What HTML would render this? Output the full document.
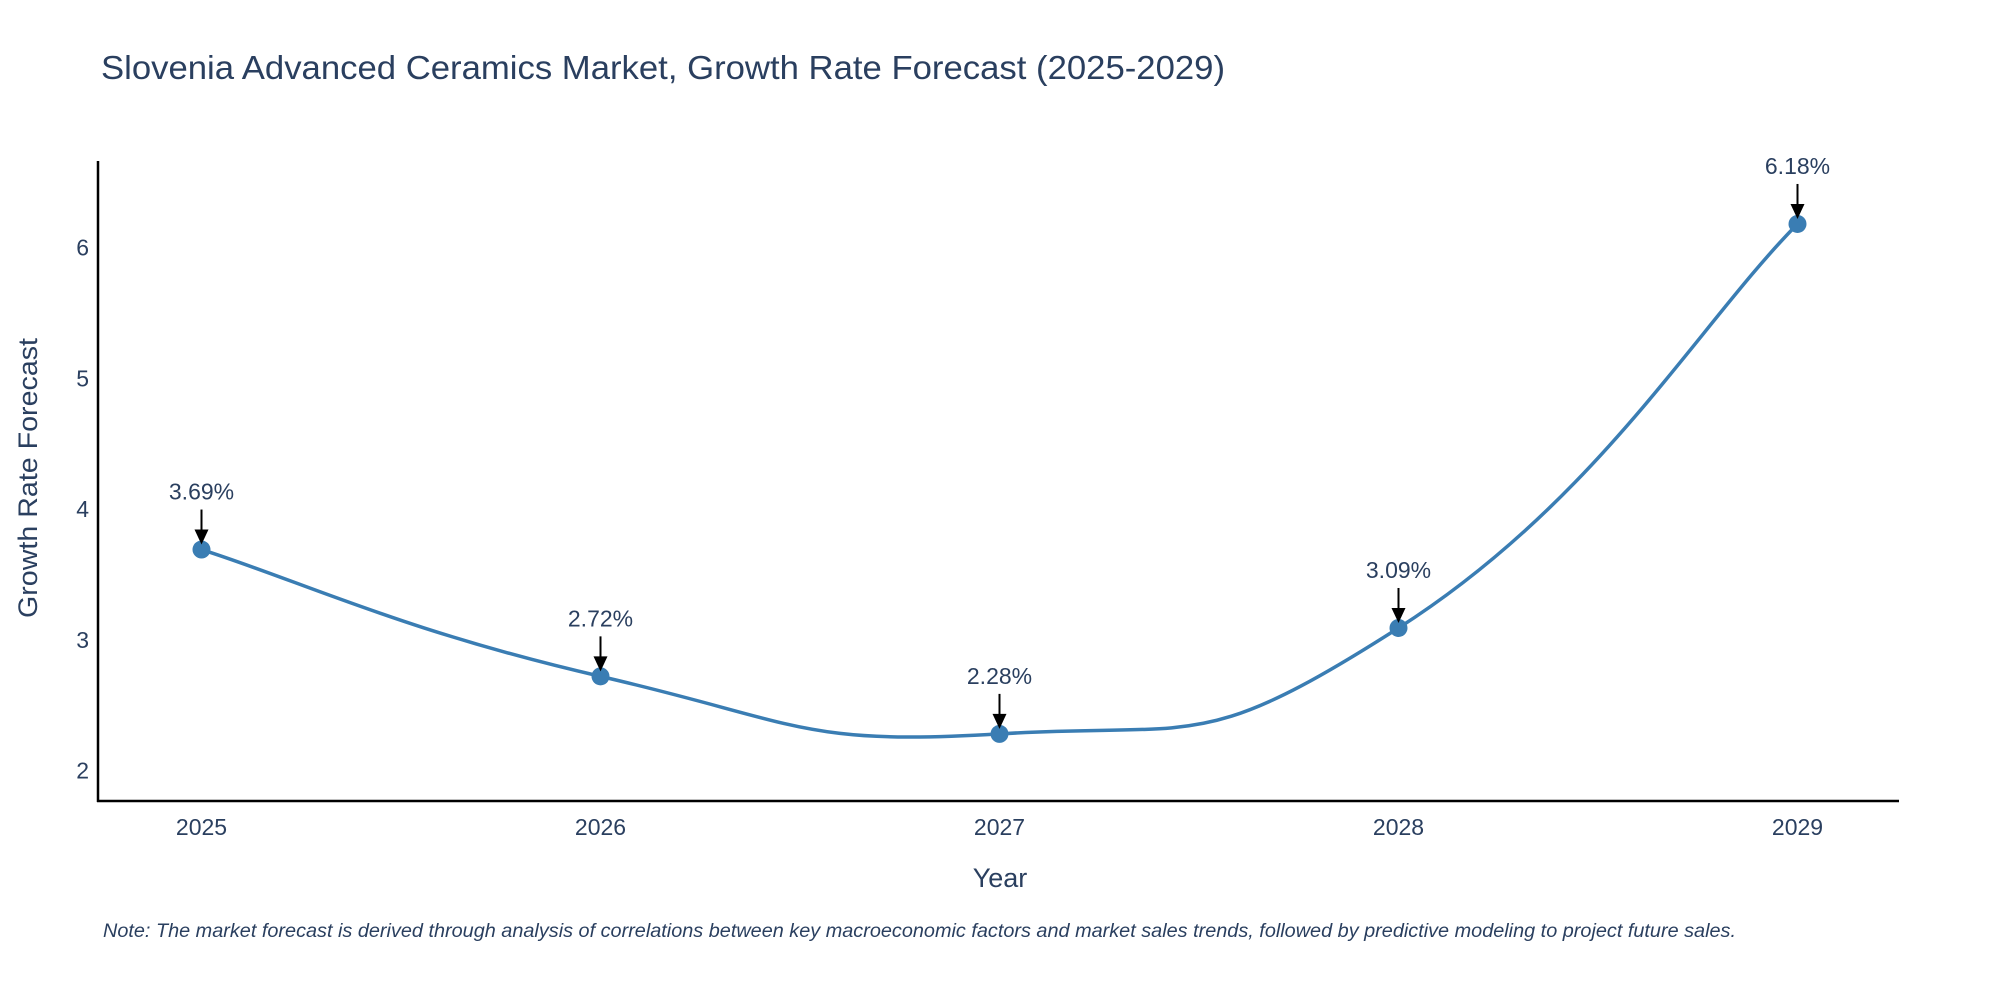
<!DOCTYPE html>
<html><head><meta charset="utf-8">
<style>
html,body{margin:0;padding:0;background:#fff;}
svg{display:block;}
text{font-family:"Liberation Sans",sans-serif;}
</style></head>
<body>
<svg id="chart" width="2000" height="1000" viewBox="0 0 2000 1000" xmlns="http://www.w3.org/2000/svg">
  <text x="101" y="79" font-size="33" fill="#2a3f5f" textLength="1124" lengthAdjust="spacingAndGlyphs">Slovenia Advanced Ceramics Market, Growth Rate Forecast (2025-2029)</text>
  <g id="plot"></g>
  <line x1="98" y1="161" x2="98" y2="802" stroke="#000" stroke-width="2.5"/>
  <line x1="97" y1="801" x2="1899" y2="801" stroke="#000" stroke-width="2.5"/>
  <text x="1000" y="887" font-size="27" fill="#2a3f5f" text-anchor="middle">Year</text>
  <text transform="translate(37,478) rotate(-90)" font-size="27" fill="#2a3f5f" text-anchor="middle" textLength="280" lengthAdjust="spacingAndGlyphs">Growth Rate Forecast</text>
  <text x="103" y="937" font-size="19" font-style="italic" fill="#2a3f5f" textLength="1633" lengthAdjust="spacingAndGlyphs">Note: The market forecast is derived through analysis of correlations between key macroeconomic factors and market sales trends, followed by predictive modeling to project future sales.</text>
</svg>
<script>
const categories = ["2025","2026","2027","2028","2029"];
const growthValues = [3.69, 2.72, 2.28, 3.09, 6.18];
const valueLabels = ["3.69%","2.72%","2.28%","3.09%","6.18%"];
const yTicks = [2,3,4,5,6];

const NS = "http://www.w3.org/2000/svg";
const plot = document.getElementById("plot");
const svg = document.getElementById("chart");
function xScale(i){ return 201.5 + i*399; }
function yScale(v){ return 770.5 - (v-2)*130.75; }
function mk(tag, attrs, parent){
  const el = document.createElementNS(NS, tag);
  for (const k in attrs) el.setAttribute(k, attrs[k]);
  (parent||plot).appendChild(el);
  return el;
}
yTicks.forEach(t=>{
  const el = mk("text",{x:89,y:yScale(t)+8,"font-size":23,fill:"#2a3f5f","text-anchor":"end"},svg);
  
  
  el.textContent = t;
});
categories.forEach((c,i)=>{
  const el = mk("text",{x:xScale(i),y:835,"font-size":23,fill:"#2a3f5f","text-anchor":"middle"},svg);
  
  
  el.textContent = c;
});
const pts = growthValues.map((v,i)=>[xScale(i), yScale(v)]);
let d = "M"+pts[0][0]+","+pts[0][1];
for (let i=0;i<pts.length-1;i++){
  const p0 = pts[Math.max(i-1,0)], p1 = pts[i], p2 = pts[i+1], p3 = pts[Math.min(i+2,pts.length-1)];
  const t = 0.75;
  const c1 = [p1[0]+(p2[0]-p0[0])*t/3, p1[1]+(p2[1]-p0[1])*t/3];
  const c2 = [p2[0]-(p3[0]-p1[0])*t/3, p2[1]-(p3[1]-p1[1])*t/3];
  d += " C"+c1[0]+","+c1[1]+" "+c2[0]+","+c2[1]+" "+p2[0]+","+p2[1];
}
const line = mk("path",{d:d,fill:"none",stroke:"#3a7db3","stroke-width":3.5});


pts.forEach((p,i)=>{
  const c = mk("circle",{cx:p[0],cy:p[1],r:9,fill:"#3a7db3"});
  
  
  const a = mk("line",{x1:p[0],y1:p[1]-40,x2:p[0],y2:p[1]-18,stroke:"#000","stroke-width":2});
  
  
  const h = mk("polygon",{points:(p[0]-7)+","+(p[1]-20)+" "+(p[0]+7)+","+(p[1]-20)+" "+p[0]+","+(p[1]-5),fill:"#000"});
  
  
  const tx = mk("text",{x:p[0],y:p[1]-50,"font-size":23,fill:"#2a3f5f","text-anchor":"middle"});
  
  
  tx.textContent = valueLabels[i];
});
</script>
</body></html>
